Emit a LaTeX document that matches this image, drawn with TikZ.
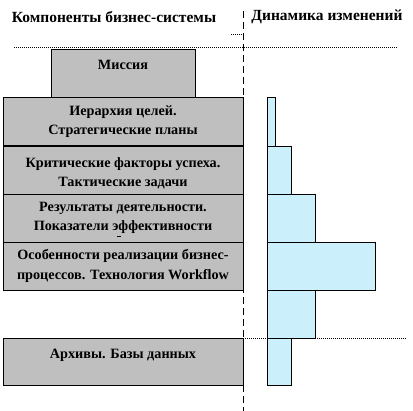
\documentclass[tikz,border=0pt]{standalone}
\usepackage{fontspec}
\setmainfont{Liberation Serif}
\begin{document}
\begin{tikzpicture}[x=1pt,y=-1pt,
  comp/.style={draw=black,line width=0.9pt,fill=gray!50,minimum width=240pt,minimum height=48pt,inner sep=0pt,outer sep=0pt,align=center,font=\fontsize{14.2}{19.5}\selectfont\bfseries},
  bar/.style={draw=black,line width=0.9pt,fill=cyan!20,inner sep=0pt,outer sep=0pt},
  head/.style={font=\fontsize{15.5}{18}\selectfont\bfseries,inner sep=0pt},
  dotline/.style={black,line width=0.6pt,dash pattern=on 1pt off 1pt}]
\useasboundingbox (0,0) rectangle (413,411);
% headers
\node[head] (h1) at (114,17) {Компоненты бизнес-системы};
\node[head] (h2) at (327,17) {Динамика изменений};
% separators
\coordinate (vt) at (243,11);
\coordinate (vb) at (243,411);
\draw[black,line width=0.8pt,dash pattern=on 7pt off 4pt] (vt) -- (vb);
\coordinate (d1a) at (14,47);
\coordinate (d1b) at (398,47);
\draw[dotline] (d1a) -- (d1b);
\coordinate (s1a) at (231,34);
\coordinate (s1b) at (243,34);
\draw[dotline] (s1a) -- (s1b);
% components
\node[comp,minimum width=144pt] (m) at (123,73) {\raisebox{8pt}[\height][\depth]{Миссия}};
\node[comp] (a) at (123,121.5) {Иерархия целей.\\Стратегические планы};
\node[comp] (b) at (123,170) {\rule{0pt}{16pt}Критические факторы  успеха.\\Тактические  задачи};
\node[comp] (c) at (123,218) {Результаты деятельности.\\Показатели эффективности};
\node[comp] (d) at (123,266) {Особенности реализации  бизнес-\\процессов.  Технология Workflow};
\node[comp,minimum height=47pt] (e) at (123,361.5) {\raisebox{6pt}[\height][\depth]{Архивы. Базы данных}};
\coordinate (u1) at (117,236);
\coordinate (u2) at (121,236);
\draw[black,line width=0.8pt] (u1) -- (u2);
% bars
\node[bar,minimum width=8pt,minimum height=49pt] (b1) at (271,121.5) {};
\node[bar,minimum width=24pt,minimum height=48pt] (b2) at (279,170) {};
\node[bar,minimum width=48pt,minimum height=48pt] (b3) at (291,218) {};
\node[bar,minimum width=108pt,minimum height=48pt] (b4) at (321,266) {};
\node[bar,minimum width=48pt,minimum height=48pt] (b5) at (291,314) {};
\node[bar,minimum width=24pt,minimum height=47pt] (b6) at (279,361.5) {};
\coordinate (d2a) at (245,338);
\coordinate (d2b) at (407,338);
\draw[dotline] (d2a) -- (b6.north west);
\draw[dotline] (b5.south east) -- (d2b);
\end{tikzpicture}
\end{document}
